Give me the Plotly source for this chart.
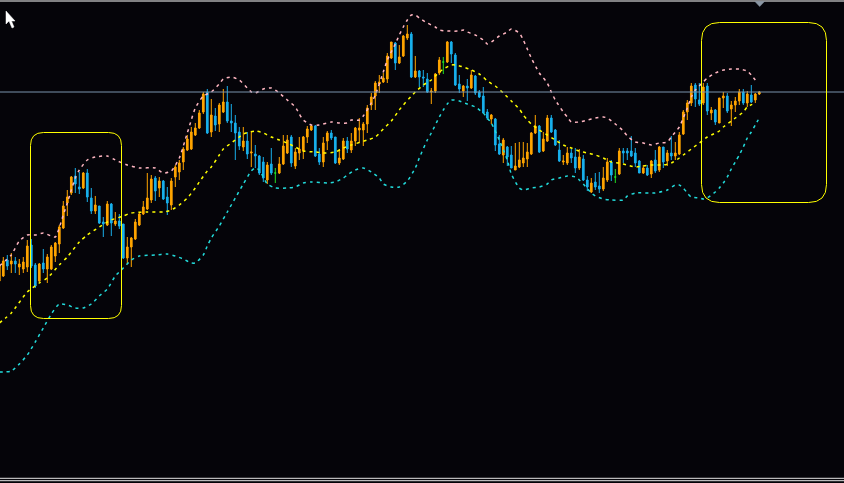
import plotly.graph_objects as go

# ---------------- data ----------------
candle_open = [219,224,240,236,239,233,231,233,255,235,
               219,237,231,231,244,256,272,297,307,324,
               313,312,327,302,289,294,278,275,296,276,
               279,276,242,253,261,275,286,291,300,322,
               312,319,303,295,323,328,338,350,351,365,
               372,388,408,368,384,376,388,398,379,377,
               368,353,359,347,346,344,338,320,336,327,
               327,336,347,363,334,347,349,363,370,374,
               346,338,359,367,363,337,341,359,350,359,
               370,370,376,395,404,416,418,421,442,457,
               437,444,462,466,423,429,423,421,408,409,
               427,438,438,458,445,416,409,414,412,424,
               408,404,388,381,381,356,345,353,345,330,
               333,337,341,346,367,374,349,359,382,370,
               350,338,337,347,343,332,341,320,308,318,
               314,311,320,338,323,326,349,349,349,347,
               339,327,332,326,340,330,353,339,347,344,
               346,366,388,397,415,400,397,414,387,390,
               377,402,404,391,395,399,408,397,405,400,
               406]
candle_high = [238,243,245,247,243,241,243,260,261,237,
               237,251,246,255,258,275,299,310,324,332,
               328,328,331,312,304,294,283,299,297,288,
               286,276,263,263,281,287,299,327,325,324,
               323,320,313,322,335,340,353,365,373,377,
               390,408,411,401,392,397,411,414,396,385,
               373,373,368,369,355,345,343,338,352,332,
               343,365,365,365,352,363,364,374,375,375,
               352,363,369,370,363,351,362,363,367,373,
               382,378,395,407,419,425,427,447,458,458,
               455,465,475,468,444,430,430,427,412,427,
               443,443,459,459,447,425,415,421,430,425,
               410,413,391,386,382,365,362,354,354,357,
               358,358,357,368,385,375,368,385,385,371,
               360,345,353,351,352,351,345,324,322,327,
               328,333,342,340,331,352,352,352,364,352,
               340,335,335,340,350,354,353,350,364,358,
               368,390,400,417,417,417,417,417,393,391,
               402,408,407,399,403,411,411,409,415,407,
               409]
candle_low = [216,223,230,227,227,225,227,228,232,212,
              218,227,217,230,238,247,271,284,305,307,
              306,311,298,286,286,276,263,274,264,274,
              271,241,236,233,260,274,285,290,297,299,
              303,300,285,290,313,320,330,349,350,364,
              371,386,366,363,369,368,387,377,368,340,
              350,349,341,333,332,325,318,316,325,317,
              326,335,346,333,331,340,341,357,369,343,
              335,333,350,360,336,335,340,347,347,354,
              357,354,367,390,390,407,417,417,441,430,
              436,443,460,422,422,413,413,407,396,407,
              425,426,437,437,414,407,403,399,411,405,
              402,387,380,376,349,345,337,334,332,330,
              332,333,333,345,366,347,348,358,367,354,
              338,335,335,337,327,330,319,309,307,310,
              307,309,318,319,317,325,337,340,343,333,
              327,326,324,322,327,328,332,334,340,340,
              345,365,380,394,393,394,395,385,380,375,
              377,392,387,374,388,395,395,393,397,397,
              405]
candle_close = [235,239,234,239,236,236,238,254,234,214,
                236,231,243,253,257,273,294,303,323,316,
                311,327,303,289,295,277,276,296,277,279,
                274,242,253,262,278,286,293,302,321,309,
                319,301,297,319,333,337,351,361,368,372,
                387,406,367,385,375,395,398,379,377,367,
                354,359,346,348,344,327,322,335,327,327,
                336,354,360,337,348,351,363,371,374,344,
                338,357,367,362,337,342,359,351,359,372,
                372,376,392,403,417,418,422,444,458,437,
                443,464,466,423,429,423,422,408,409,426,
                440,438,458,446,415,411,414,412,425,407,
                403,387,382,385,355,346,360,343,332,334,
                340,342,348,367,374,348,361,382,368,355,
                339,339,347,342,332,343,320,313,317,313,
                311,322,338,325,323,349,347,347,344,337,
                327,332,325,339,329,353,338,347,344,347,
                365,388,397,414,401,396,413,389,390,378,
                402,404,389,395,399,408,397,406,398,406,
                408]
# candles drawn as green dojis
doji_idx = [69, 111, 154]

# bands: (candle index, level) samples
upper_idx = [0,3,5,7,9,11,13,14,16,17,18,19,20,22,24,27,29,32,35,39,41,43,45,47,48,49,51,53,55,56,
             58,60,62,63,64,66,68,70,72,74,75,76,78,80,83,85,87,88,90,91,93,94,96,97,99,100,101,102,103,104,
             105,107,109,110,112,115,116,117,119,121,122,123,125,127,128,130,131,132,133,135,137,138,139,141,142,143,145,147,149,151,
             152,154,156,157,159,161,163,165,167,168,170,171,172,173,174,176,177,179,181,183,185,187,188,189]
upper_val = [234,245,259,265,265,267,264,263,285,297,310,322,330,340,343,344,340,335,332,332,327,329,342,367,380,392,404,408,416,421,
             423,420,412,408,407,411,412,407,400,393,386,380,375,375,378,377,377,380,380,384,397,405,428,440,456,465,473,480,485,485,
             482,477,473,470,469,469,470,468,465,460,456,458,464,468,471,467,460,451,442,427,417,408,400,388,383,378,378,380,382,383,
             382,376,369,364,358,357,355,357,358,363,373,382,392,403,410,418,422,427,430,431,431,429,425,420]

middle_idx = [0,3,7,10,12,15,17,20,22,25,28,31,33,37,41,43,45,47,49,50,52,53,55,56,58,60,61,64,66,68,
              70,72,74,76,79,81,84,86,88,92,94,96,98,100,101,103,104,106,108,109,111,113,114,116,118,120,121,122,124,126,
              128,130,131,132,133,135,137,139,141,143,145,147,149,151,153,155,157,159,161,163,166,168,170,171,173,175,177,178,180,181,
              183,184,186,187,189]
middle_val = [177,187,208,217,222,235,243,258,265,273,280,284,287,288,288,290,295,302,312,318,329,333,345,351,357,363,366,369,367,363,
              360,357,353,349,348,347,348,352,355,360,363,371,379,390,395,404,408,415,420,424,431,435,435,433,430,426,423,419,414,407,
              399,391,385,380,376,370,365,360,355,352,349,347,345,342,338,337,335,333,334,335,335,337,342,345,351,357,363,365,369,373,
              379,382,388,393,397]

lower_idx = [0,3,5,7,9,11,13,15,17,19,21,23,25,27,29,31,33,35,39,42,44,46,48,49,51,52,53,55,57,59,
             61,63,64,65,67,69,72,74,76,78,82,84,86,87,89,91,93,95,96,98,100,102,104,105,107,108,110,111,112,113,
             115,117,119,121,122,123,125,127,128,130,131,133,135,137,138,140,142,144,145,146,148,149,151,153,156,157,159,164,167,169,
             170,171,172,173,175,176,177,179,180,181,182,183,184,185,186,187,188,189,190]
lower_val = [128,129,136,145,158,172,186,196,195,192,192,196,204,211,224,232,240,244,245,246,244,241,237,237,245,254,262,274,288,302,
             316,329,332,330,316,312,312,313,317,318,317,318,322,325,330,332,328,322,316,313,313,319,332,342,360,367,383,390,396,400,
             399,396,393,387,382,377,360,340,326,312,310,312,313,316,320,322,324,323,320,316,307,304,301,300,300,304,307,307,310,315,
             315,312,307,303,302,301,302,308,312,317,323,331,338,345,353,362,368,375,382]

hline_level = 408

# ---------------- styling ----------------
BG = "#050409"
UP = "#ffa500"
DOWN = "#18b0ec"
DOJI = "#22e022"
PINK = "#ffb6c1"
YELLOW = "#ffff00"
CYAN = "#22dada"
HLINE = "#7a93ad"

W, H = 844, 483
X_RANGE = [0.175, 211.175]   # candle index range shown
Y_RANGE = [17, 500]          # price range shown


def P(px, py):
    """pixel position -> (candle index, price) for decoration shapes"""
    return ((px + 0.7) / 4.0, 500 - py)


def path_from(points_cmds):
    out = []
    for cmd, pts in points_cmds:
        s = cmd
        for (px, py) in pts:
            x, y = P(px, py)
            s += f" {x:.4f},{y:.4f}"
        out.append(s)
    return " ".join(out) + " Z"


def rrect(x0, y0, x1, y1, r):
    return path_from([
        ("M", [(x0 + r, y0)]), ("L", [(x1 - r, y0)]), ("Q", [(x1, y0), (x1, y0 + r)]),
        ("L", [(x1, y1 - r)]), ("Q", [(x1, y1), (x1 - r, y1)]),
        ("L", [(x0 + r, y1)]), ("Q", [(x0, y1), (x0, y1 - r)]),
        ("L", [(x0, y0 + r)]), ("Q", [(x0, y0), (x0 + r, y0)]),
    ])


idx = list(range(len(candle_open)))
main = [i for i in idx if i not in doji_idx]

fig = go.Figure()
fig.add_trace(go.Candlestick(
    x=main,
    open=[candle_open[i] for i in main],
    high=[candle_high[i] for i in main],
    low=[candle_low[i] for i in main],
    close=[candle_close[i] for i in main],
    increasing=dict(line=dict(color=UP, width=1), fillcolor=UP),
    decreasing=dict(line=dict(color=DOWN, width=1), fillcolor=DOWN),
    whiskerwidth=0, hoverinfo="skip", showlegend=False,
))
fig.add_trace(go.Candlestick(
    x=doji_idx,
    open=[candle_open[i] for i in doji_idx],
    high=[candle_high[i] for i in doji_idx],
    low=[candle_low[i] for i in doji_idx],
    close=[candle_close[i] for i in doji_idx],
    increasing=dict(line=dict(color=DOJI, width=1), fillcolor=DOJI),
    decreasing=dict(line=dict(color=DOJI, width=1), fillcolor=DOJI),
    whiskerwidth=0, hoverinfo="skip", showlegend=False,
))

for xs, ys, col, dash in [(upper_idx, upper_val, PINK, "3px,4px"),
                          (middle_idx, middle_val, YELLOW, "3px,4px"),
                          (lower_idx, lower_val, CYAN, "3px,4px")]:
    fig.add_trace(go.Scatter(x=xs, y=ys, mode="lines",
                             line=dict(color=col, width=1.5, dash=dash, shape="spline", smoothing=0.6),
                             hoverinfo="skip", showlegend=False))

shapes = []
# horizontal price line
shapes.append(dict(type="line", xref="paper", x0=0, x1=1, yref="y", y0=hline_level, y1=hline_level,
                   line=dict(color=HLINE, width=1)))
# top and bottom frame lines
for lvl, col in [(499.0, "#ffffff"), (21.7, "#e6e6e6"), (19.3, "#e6e6e6")]:
    shapes.append(dict(type="line", xref="paper", x0=0, x1=1, yref="y", y0=lvl, y1=lvl,
                       line=dict(color=col, width=1)))
# highlight boxes
shapes.append(dict(type="path", xref="x", yref="y", path=rrect(30.5, 132.5, 121.5, 318.5, 13),
                   line=dict(color=YELLOW, width=1)))
shapes.append(dict(type="path", xref="x", yref="y", path=rrect(701.5, 22.5, 826.5, 202.5, 18),
                   line=dict(color=YELLOW, width=1)))
# small marker triangle at top
shapes.append(dict(type="path", xref="x", yref="y",
                   path=path_from([("M", [(755, 1.5)]), ("L", [(764.5, 1.5)]), ("L", [(759.7, 6.5)])]),
                   fillcolor="#8a96a4", line=dict(color="#8a96a4", width=0.5)))
# mouse cursor
shapes.append(dict(type="path", xref="x", yref="y",
                   path=path_from([("M", [(6, 11)]), ("L", [(6, 24)]), ("L", [(9, 21)]), ("L", [(12, 28)]),
                                   ("L", [(14, 27)]), ("L", [(11.5, 21)]), ("L", [(15, 21)])]),
                   fillcolor="#ffffff", line=dict(color="#ffffff", width=0.5)))

fig.update_layout(
    width=W, height=H,
    margin=dict(l=0, r=0, t=0, b=0),
    paper_bgcolor=BG, plot_bgcolor=BG,
    showlegend=False,
    boxgap=0.4,
    shapes=shapes,
    xaxis=dict(range=X_RANGE, visible=False, showgrid=False, zeroline=False,
               rangeslider=dict(visible=False), fixedrange=True),
    yaxis=dict(range=Y_RANGE, visible=False, showgrid=False, zeroline=False, fixedrange=True),
    hovermode=False,
)

fig.write_html(
    "out.html",
    config={"displayModeBar": False},
    post_script="document.body.style.margin='0';document.body.style.padding='0';"
                "document.body.style.background='#050409';document.body.style.overflow='hidden';",
)
